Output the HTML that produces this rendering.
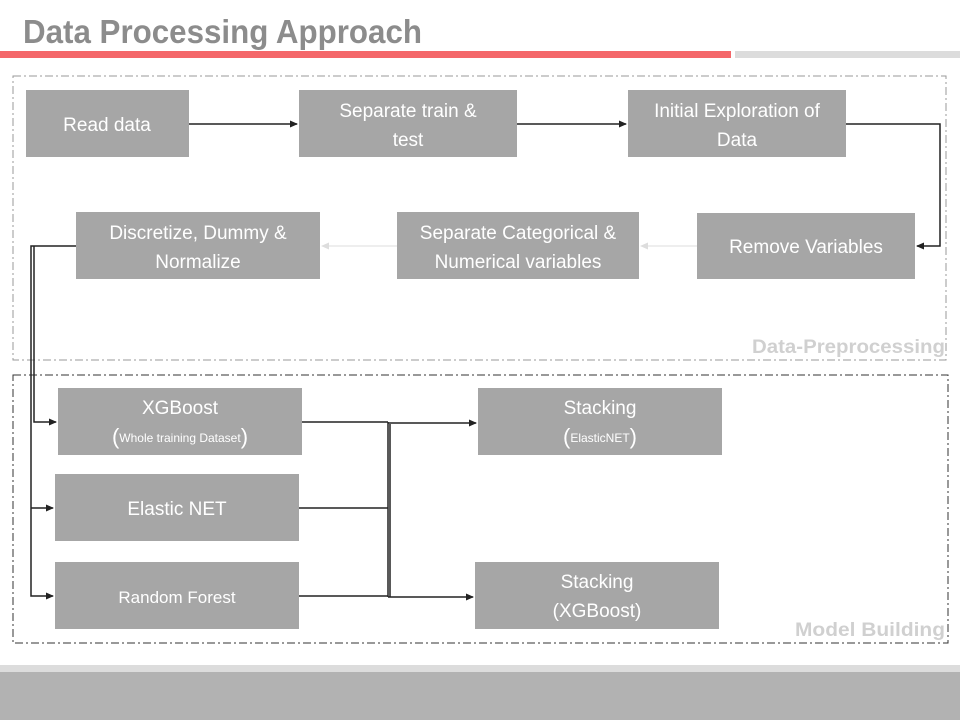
<!DOCTYPE html>
<html><head><meta charset="utf-8"><style>
body{margin:0;width:960px;height:720px;background:#fff;overflow:hidden;font-family:"Liberation Sans",sans-serif}
</style></head><body>
<svg width="960" height="720" xmlns="http://www.w3.org/2000/svg" style="position:absolute;left:0;top:0">
<defs>
<marker id="a" markerWidth="8" markerHeight="8" refX="7" refY="4" orient="auto" markerUnits="userSpaceOnUse"><path d="M0,0.5 L8,4 L0,7.5z" fill="#222"/></marker>
<marker id="g" markerWidth="8" markerHeight="8" refX="7" refY="4" orient="auto" markerUnits="userSpaceOnUse"><path d="M0,0.5 L8,4 L0,7.5z" fill="#ddd"/></marker>
</defs>
<text x="23" y="43" font-size="33" font-weight="bold" fill="#8c8c8c" textLength="399" lengthAdjust="spacingAndGlyphs">Data Processing Approach</text>
<rect x="0" y="51" width="731" height="7" fill="#f4676a"/>
<rect x="735" y="51" width="225" height="7" fill="#dcdcdc"/>
<rect x="13" y="76" width="933" height="284" fill="none" stroke="#999" stroke-dasharray="8,3,2,3"/>
<rect x="13" y="375" width="935" height="268" fill="none" stroke="#333" stroke-dasharray="8,3,2,3"/>
<text x="945" y="353" text-anchor="end" font-size="19" font-weight="bold" fill="#d0d0d0" textLength="193" lengthAdjust="spacingAndGlyphs">Data-Preprocessing</text>
<text x="945" y="636" text-anchor="end" font-size="19" font-weight="bold" fill="#d0d0d0" textLength="150" lengthAdjust="spacingAndGlyphs">Model Building</text>
<g fill="#a6a6a6">
<rect x="26" y="90" width="163" height="67"/>
<rect x="299" y="90" width="218" height="67"/>
<rect x="628" y="90" width="218" height="67"/>
<rect x="697" y="213" width="218" height="66"/>
<rect x="397" y="212" width="242" height="67"/>
<rect x="76" y="212" width="244" height="67"/>
<rect x="58" y="388" width="244" height="67"/>
<rect x="55" y="474" width="244" height="67"/>
<rect x="55" y="562" width="244" height="67"/>
<rect x="478" y="388" width="244" height="67"/>
<rect x="475" y="562" width="244" height="67"/>
</g>
<g fill="#fff" font-size="19" text-anchor="middle">
<text x="107" y="131">Read data</text>
<text x="408" y="117">Separate train &amp;</text><text x="408" y="146">test</text>
<text x="737" y="117">Initial Exploration of</text><text x="737" y="146">Data</text>
<text x="806" y="253">Remove Variables</text>
<text x="518" y="239">Separate Categorical &amp;</text><text x="518" y="268">Numerical variables</text>
<text x="198" y="239">Discretize, Dummy &amp;</text><text x="198" y="268">Normalize</text>
<text x="180" y="414">XGBoost</text>
<text x="180" y="444"><tspan font-size="22">(</tspan><tspan font-size="12" dy="-2">Whole training Dataset</tspan><tspan font-size="22" dy="2">)</tspan></text>
<text x="177" y="515">Elastic NET</text>
<text x="177" y="603" font-size="17">Random Forest</text>
<text x="600" y="414">Stacking</text>
<text x="600" y="444"><tspan font-size="22">(</tspan><tspan font-size="12" dy="-2">ElasticNET</tspan><tspan font-size="22" dy="2">)</tspan></text>
<text x="597" y="588">Stacking</text><text x="597" y="617">(XGBoost)</text>
</g>
<g stroke="#222" stroke-width="1.5" fill="none">
<line x1="189" y1="124" x2="297" y2="124" marker-end="url(#a)"/>
<line x1="517" y1="124" x2="626" y2="124" marker-end="url(#a)"/>
<polyline points="846,124 940,124 940,246 917,246" marker-end="url(#a)"/>
<polyline points="76,246 31,246 31,596 53,596" marker-end="url(#a)"/>
<line x1="31" y1="508" x2="53" y2="508" marker-end="url(#a)"/>
<polyline points="34,246 34,422 56,422" marker-end="url(#a)"/>
<line x1="302" y1="422" x2="388" y2="422"/>
<line x1="299" y1="508" x2="388" y2="508"/>
<line x1="299" y1="596" x2="388" y2="596"/>
<line x1="388" y1="422" x2="388" y2="597"/>
<line x1="390" y1="424" x2="390" y2="597"/>
<line x1="388" y1="423" x2="476" y2="423" marker-end="url(#a)"/>
<line x1="388" y1="597" x2="473" y2="597" marker-end="url(#a)"/>
</g>
<line x1="697" y1="246" x2="641" y2="246" stroke="#ddd" stroke-width="1" marker-end="url(#g)"/>
<line x1="397" y1="246" x2="322" y2="246" stroke="#ddd" stroke-width="1" marker-end="url(#g)"/>
<rect x="0" y="665" width="960" height="7" fill="#dcdcdc"/>
<rect x="0" y="672" width="960" height="48" fill="#b2b2b2"/>
</svg>
</body></html>
